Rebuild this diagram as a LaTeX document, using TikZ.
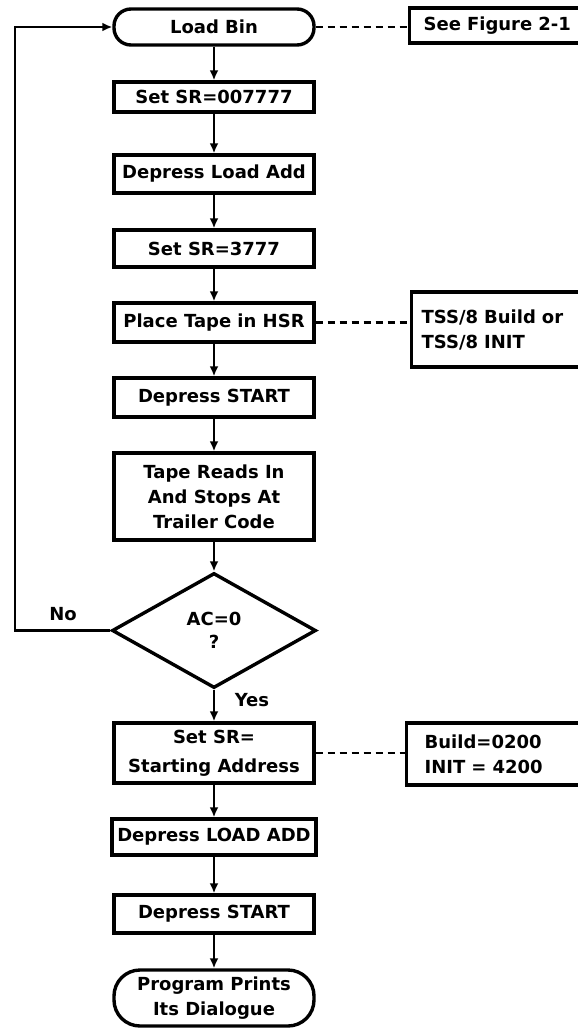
\documentclass[tikz,border=0pt]{standalone}
\usepackage{fontspec}
\setmainfont{DejaVu Sans}
\usetikzlibrary{arrows.meta,shapes.geometric}
\begin{document}
\begin{tikzpicture}[x=1pt,y=-1pt,
  font=\fontsize{18}{25}\selectfont\bfseries,
  box/.style={draw,line width=3.4pt,minimum width=200pt,inner sep=0pt,align=center},
  term/.style={box,rounded corners=17pt},
  note/.style={draw,line width=3.4pt,anchor=west,align=left,text width=170pt,inner ysep=0pt},
  flow/.style={line width=2.8pt,-{Latex[length=10pt,width=9pt]}},
  dashlink/.style={line width=2.2pt,dash pattern=on 7pt off 5pt},
  lbl/.style={inner sep=0pt}
]
\useasboundingbox (0,0) rectangle (578,1028);
\fill[white] (0,0) rectangle (578,1028);
\clip (0,0) rectangle (578,1028);

% main column
\node[term,minimum height=36pt] (lb) at (214,27) {Load Bin};
\node[box,minimum height=30pt] (s1) at (214,97) {Set SR=007777};
\node[box,minimum height=38pt] (d1) at (214,174) {Depress Load Add};
\node[box,minimum height=37pt] (s2) at (214,248.5) {Set SR=3777};
\node[box,minimum height=39pt] (pt) at (214,322.5) {Place Tape in HSR};
\node[box,minimum height=39pt] (ds1) at (214,397.5) {Depress START};
\node[box,minimum height=87pt] (tr) at (214,496.5) {Tape Reads In\\And Stops At\\Trailer Code};
\node[diamond,draw,line width=3.4pt,minimum width=204pt,minimum height=115pt,inner sep=0pt,align=center,font=\fontsize{18}{23}\selectfont\bfseries] (ac) at (214,630.5) {AC=0\\?};
\node[box,minimum height=60pt,font=\fontsize{18}{29}\selectfont\bfseries] (s3) at (214,753) {Set SR=\\Starting Address};
\node[box,minimum height=36pt,minimum width=204pt] (d2) at (214,837) {Depress LOAD ADD};
\node[box,minimum height=38pt] (ds2) at (214,914) {Depress START};
\node[box,rounded corners=26pt,minimum height=56pt] (pp) at (214,998) {Program Prints\\Its Dialogue};

% side notes
\node[note,minimum height=35pt,inner xsep=14pt] (sf) at (408,25.5) {See Figure 2-1};
\node[note,minimum height=75pt,inner xsep=10pt] (tss) at (410,329.5) {TSS/8 Build or\\TSS/8 INIT};
\node[note,minimum height=62pt,inner xsep=18pt] (bd) at (405,754) {Build=0200\\INIT = 4200};

% flow
\draw[flow] (lb) -- (s1);
\draw[flow] (s1) -- (d1);
\draw[flow] (d1) -- (s2);
\draw[flow] (s2) -- (pt);
\draw[flow] (pt) -- (ds1);
\draw[flow] (ds1) -- (tr);
\draw[flow] (tr) -- (ac);
\draw[flow] (ac) -- (s3);
\draw[flow] (s3) -- (d2);
\draw[flow] (d2) -- (ds2);
\draw[flow] (ds2) -- (pp);

% loop back
\coordinate (lc) at (15,630.5);
\draw[flow] (ac.west) -- (lc) |- (lb.west);
\node[lbl] (no) at (63,614) {No};
\node[lbl] (yes) at (252,700) {Yes};

% dashed links
\draw[dashlink] (lb.east) -- (lb.east -| sf.west);
\draw[dashlink] (pt.east) -- (pt.east -| tss.west);
\draw[dashlink] (s3.east) -- (s3.east -| bd.west);
\end{tikzpicture}
\end{document}
